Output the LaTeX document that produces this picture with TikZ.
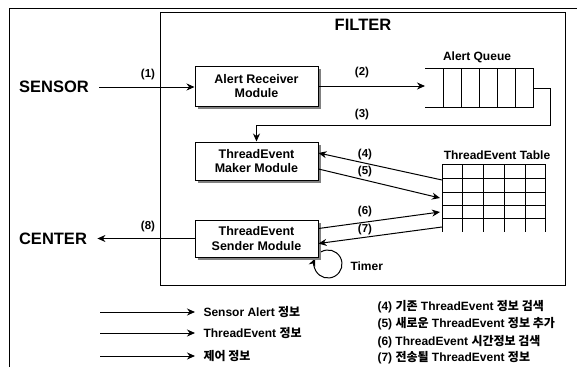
\documentclass[tikz,border=0pt]{standalone}
\usepackage{fontspec}
\setmainfont{Liberation Sans}
\newfontfamily\kr{Noto Sans CJK KR}
\usetikzlibrary{arrows.meta,shadows}
\begin{document}
\begin{tikzpicture}[x=1pt,y=-1pt,line width=1pt,
  arr/.style={-{Stealth[length=8pt,width=7pt]}},
  modbox/.style={draw,fill=white,minimum width=123pt,align=center,
    font=\fontsize{12.5}{14.5}\selectfont\bfseries,inner sep=0pt,
    drop shadow={shadow xshift=3pt,shadow yshift=-3pt,fill=black!50,opacity=1}},
  lbl/.style={font=\fontsize{11.5}{13}\selectfont\bfseries,inner sep=0pt},
  big/.style={font=\fontsize{16.5}{19}\selectfont\bfseries,inner sep=0pt},
  captxt/.style={font=\fontsize{12}{14}\selectfont\bfseries,inner sep=0pt},
  leg/.style={font=\fontsize{12}{14}\selectfont\bfseries,anchor=west,inner sep=0pt}]
\useasboundingbox (0,0) rectangle (577,367);
\fill[white] (0,0) rectangle (577,367);
% frames
\draw (9,367) -- (9,8) -- (577,8);
\draw (160,12) rectangle (565,285);
\node[big] (filter) at (363,25) {FILTER};
\node[big] (sensor) at (54,87) {SENSOR};
\node[big] (center) at (53,238.5) {CENTER};
% timer loop (drawn before the box, which covers part of it)
\draw[arr] (328,264) ++(240:14) arc[start angle=240,end angle=563.6,radius=14];
\node[captxt,anchor=west] (timer) at (350,266) {Timer};
% modules
\node[modbox,minimum height=40pt] (ar) at (256.5,86) {Alert Receiver\\Module};
\node[modbox,minimum height=38pt] (mk) at (256.5,161) {ThreadEvent\\Maker Module};
\node[modbox,minimum height=37pt] (sd) at (256.5,238.5) {ThreadEvent\\Sender Module};
% queue
\draw (425,68) -- (533,68) -- (533,107) -- (425,107);
\foreach \x in {443,461,479,497,515} \draw (\x,68) -- (\x,107);
\node[captxt] (aq) at (477,57) {Alert Queue};
\coordinate (qin) at (425,86);
\coordinate (qout) at (533,88);
\coordinate (c3) at (550,125);
% table
\foreach \y in {164,178,192,205,218} \draw (442,\y) -- (545,\y);
\foreach \x in {442,462,483,504,525,545} \draw (\x,164) -- (\x,232);
\node[captxt] (tt) at (497,155) {ThreadEvent Table};
\coordinate (t4) at (442,180);
\coordinate (t5) at (440,198);
\coordinate (t6) at (440,212);
\coordinate (t7) at (442,227);
% connectors
\draw[arr] ([xshift=10pt]sensor.east) -- (sensor.east -| ar.west);
\node[lbl] (l1) at (148,75) {(1)};
\draw[arr] (ar.east) -- (ar.east -| qin);
\node[lbl] (l2) at (362,73) {(2)};
\draw[arr] (qout) -| (c3) -- (c3 -| mk.north) -- (mk.north);
\node[lbl] (l3) at (362,115) {(3)};
\draw[arr] (t4) -- ([yshift=8pt]mk.east);
\node[lbl] (l4) at (365,155) {(4)};
\draw[arr] ([yshift=-8pt]mk.east) -- (t5);
\node[lbl] (l5) at (365,172) {(5)};
\draw[arr] ([yshift=10pt]sd.east) -- (t6);
\node[lbl] (l6) at (365,212) {(6)};
\draw[arr] (t7) -- ([yshift=-5pt]sd.east);
\node[lbl] (l7) at (365,230) {(7)};
\draw[arr] (sd.west) -- ([xshift=10pt]center.east |- sd.west);
\node[lbl] (l8) at (148,227) {(8)};
% legend
\coordinate (la1) at (100,312); \coordinate (lb1) at (195,312);
\coordinate (la2) at (100,333); \coordinate (lb2) at (195,333);
\coordinate (la3) at (100,356); \coordinate (lb3) at (195,356);
\draw[arr] (la1) -- (lb1);
\draw[arr] (la2) -- (lb2);
\draw[arr] (la3) -- (lb3);
\node[leg] (g1) at (203,312) {Sensor Alert {\kr 정보}};
\node[leg] (g2) at (203,333) {ThreadEvent {\kr 정보}};
\node[leg] (g3) at (203,356) {{\kr 제어 정보}};
\node[leg] (r4) at (377,307) {(4) {\kr 기존} ThreadEvent {\kr 정보 검색}};
\node[leg] (r5) at (377,324) {(5) {\kr 새로운} ThreadEvent {\kr 정보 추가}};
\node[leg] (r6) at (377,342) {(6) ThreadEvent {\kr 시간정보 검색}};
\node[leg] (r7) at (377,358) {(7) {\kr 전송될} ThreadEvent {\kr 정보}};
\end{tikzpicture}
\end{document}
